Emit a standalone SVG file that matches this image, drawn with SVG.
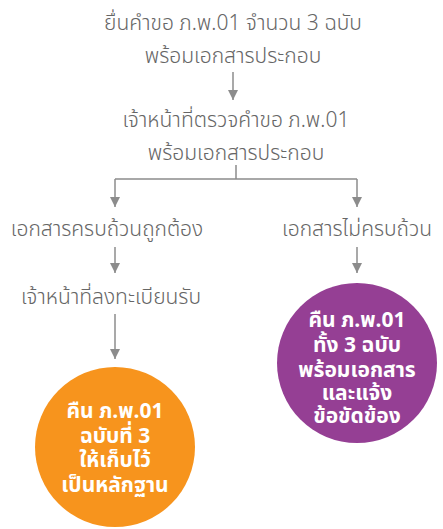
<svg xmlns="http://www.w3.org/2000/svg" width="443" height="529" viewBox="0 0 443 529">
<defs>
<marker id="ah" viewBox="0 0 10 10" refX="10" refY="5" markerWidth="10" markerHeight="10" markerUnits="userSpaceOnUse" orient="auto">
<path d="M0,0 L10,5 L0,10 z" fill="#8c8c8c"/>
</marker>
<style>
.t{font-family:"Noto Sans Thai","Noto Sans","DejaVu Sans",sans-serif;font-size:21px;fill:#666666;text-anchor:middle;font-weight:300}
.w{font-family:"Noto Sans Thai","Noto Sans","DejaVu Sans",sans-serif;font-size:21px;fill:#ffffff;text-anchor:middle;font-weight:bold}
.c{stroke:#8c8c8c;stroke-width:1.5;fill:none}
</style>
</defs>
<rect width="443" height="529" fill="#ffffff"/>
<g id="connectors">
<path class="c" d="M233,72 V100" marker-end="url(#ah)"/>
<path class="c" d="M236,165 V179 M115,179 H357"/>
<path class="c" d="M115,179 V207" marker-end="url(#ah)"/>
<path class="c" d="M357,179 V207" marker-end="url(#ah)"/>
<path class="c" d="M115,247 V273" marker-end="url(#ah)"/>
<path class="c" d="M357,247 V273" marker-end="url(#ah)"/>
<path class="c" d="M115,314 V359" marker-end="url(#ah)"/>
</g>
<g id="n1">
<text class="t" x="233" y="30">ยื่นคำขอ ภ.พ.01 จำนวน 3 ฉบับ</text>
<text class="t" x="233" y="63">พร้อมเอกสารประกอบ</text>
</g>
<g id="n2">
<text class="t" x="236" y="127">เจ้าหน้าที่ตรวจคำขอ ภ.พ.01</text>
<text class="t" x="236" y="160">พร้อมเอกสารประกอบ</text>
</g>
<g id="n3">
<text class="t" x="107" y="236">เอกสารครบถ้วนถูกต้อง</text>
</g>
<g id="n4">
<text class="t" x="357" y="236">เอกสารไม่ครบถ้วน</text>
</g>
<g id="n5">
<text class="t" x="111" y="304">เจ้าหน้าที่ลงทะเบียนรับ</text>
</g>
<g id="n6">
<circle cx="115" cy="447" r="80" fill="#f7941d"/>
<text class="w" x="115" y="418">คืน ภ.พ.01</text>
<text class="w" x="115" y="443">ฉบับที่ 3</text>
<text class="w" x="115" y="467">ให้เก็บไว้</text>
<text class="w" x="115" y="492">เป็นหลักฐาน</text>
</g>
<g id="n7">
<circle cx="357" cy="363" r="80" fill="#953f94"/>
<text class="w" x="357" y="327">คืน ภ.พ.01</text>
<text class="w" x="357" y="352">ทั้ง 3 ฉบับ</text>
<text class="w" x="357" y="377">พร้อมเอกสาร</text>
<text class="w" x="357" y="400">และแจ้ง</text>
<text class="w" x="357" y="423">ข้อขัดข้อง</text>
</g>
</svg>
